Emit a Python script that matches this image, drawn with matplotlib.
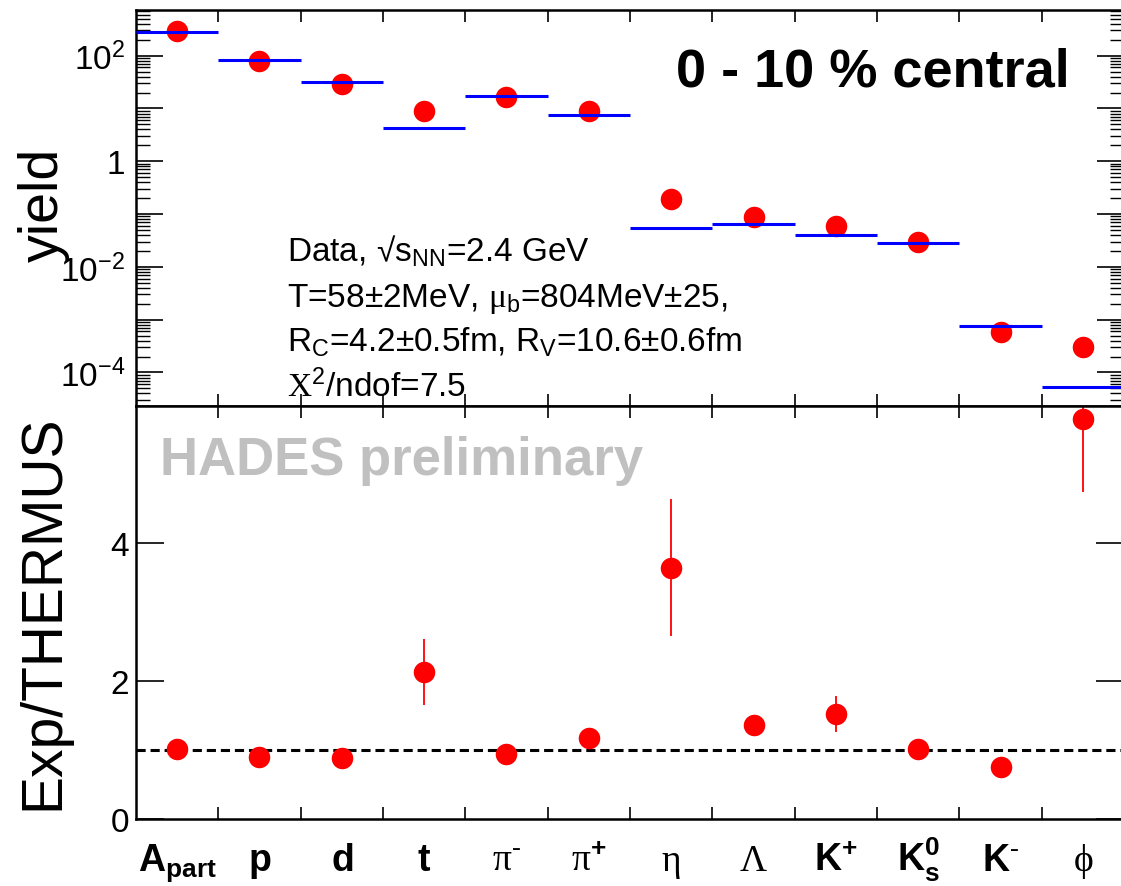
import numpy as np
import matplotlib.pyplot as plt
import matplotlib.transforms as mtransforms
from matplotlib.ticker import FixedLocator, FuncFormatter, LogLocator, NullFormatter

# particle species (x categories)
species = [
    r'$\mathbf{A_{part}}$',
    r'$\mathbf{p}$',
    r'$\mathbf{d}$',
    r'$\mathbf{t}$',
    r'$\mathrm{π}^{\text{-}}$',
    r'$\mathrm{π}^{\mathbf{+}}$',
    r'$\mathrm{η}$',
    r'$\mathrm{Λ}$',
    r'$\mathbf{K^{+}}$',
    r'$\mathbf{K^{0}_{s}}$',
    r'$\mathbf{K}^{\text{-}}$',
    r'$\mathrm{ϕ}$',
]

# measured yields and THERMUS fit
yield_data = [290, 78, 29, 9.0, 16.7, 9.0, 0.193, 0.089, 0.060, 0.030, 5.9e-4, 3.0e-4]
yield_model = [284, 83, 32, 4.2, 17.5, 7.5, 0.054, 0.065, 0.040, 0.028, 7.7e-4, 5.2e-5]

# ratio exp / THERMUS
ratio = [1.02, 0.90, 0.88, 2.14, 0.95, 1.18, 3.65, 1.37, 1.53, 1.02, 0.75, 5.80]
ratio_err = [0.0, 0.0, 0.0, 0.48, 0.0, 0.0, 1.0, 0.0, 0.26, 0.0, 0.0, 1.06]
ratio_ref = 1.0

fit_text = [
    r'Data, √$s_{NN}$=2.4 GeV',
    r'T=58±2MeV, $\mathrm{μ}_{b}$=804MeV±25,',
    r'R$_{C}$=4.2±0.5fm, R$_{V}$=10.6±0.6fm',
    r'$\mathrm{X}^{2}$/ndof=7.5',
]

plt.rcParams['font.family'] = ['Liberation Sans', 'DejaVu Sans']
plt.rcParams['mathtext.fontset'] = 'custom'
plt.rcParams['mathtext.rm'] = 'Liberation Serif'
plt.rcParams['mathtext.sf'] = 'Liberation Sans'
plt.rcParams['mathtext.bf'] = 'Liberation Sans:bold'
plt.rcParams['mathtext.it'] = 'Liberation Sans:italic'
plt.rcParams['mathtext.default'] = 'sf'

n = len(species)
centers = np.arange(n) + 0.5
edges = np.arange(n + 1)

fig = plt.figure(figsize=(11.21, 8.87), dpi=100)
ax1 = fig.add_axes([0.1213, 0.5415, 0.8814, 0.4461])
ax2 = fig.add_axes([0.1213, 0.0755, 0.8814, 0.4660])

# --- top panel: yields
ax1.hlines(yield_model, edges[:-1], edges[1:], colors='blue', lw=2.2, zorder=3)
ax1.plot(centers, yield_data, 'o', color='red', ms=15.5, mec='none', zorder=2)
ax1.set_yscale('log')
ax1.set_xlim(0, n)
ax1.set_ylim(2.35e-5, 733)


def log_label(v, pos):
    e = int(round(np.log10(v)))
    if e % 2:
        return ''
    if e == 0:
        return '1'
    return r'$10^{%d}$' % e


ax1.yaxis.set_major_locator(LogLocator(base=10, numticks=20))
ax1.yaxis.set_minor_locator(LogLocator(base=10, subs=np.arange(2, 10), numticks=20))
ax1.yaxis.set_major_formatter(FuncFormatter(log_label))
ax1.yaxis.set_minor_formatter(NullFormatter())
ax1.xaxis.set_major_locator(FixedLocator(edges[1:-1]))
ax1.tick_params(axis='y', which='major', direction='in', length=19.5, width=1.2,
                left=True, right=True, labelsize=24, pad=8)
ax1.tick_params(axis='y', which='minor', direction='in', length=10, width=1.0,
                left=True, right=True)
ax1.tick_params(axis='x', which='major', direction='in', length=8.5, width=1.2,
                top=True, bottom=True, labelbottom=False)
ax1.set_ylabel('yield', fontsize=40)
ax1.yaxis.set_label_coords(-0.0668, 0.51)

ax1.text(0.9453, 0.808, '0 - 10 % central', transform=ax1.transAxes,
         fontsize=39, fontweight='bold', ha='right', va='baseline')
for line, yb in zip(fit_text, [0.3657, 0.252, 0.138, 0.0245]):
    ax1.text(0.1528, yb, line, transform=ax1.transAxes, fontsize=24, va='baseline')

# --- bottom panel: ratio
ax2.axhline(ratio_ref, color='black', lw=2.2, ls=(0, (3, 1.6)), zorder=1)
ax2.errorbar(centers, ratio, yerr=ratio_err, fmt='o', color='red', ms=15.5, mec='none',
             ecolor='red', elinewidth=1.3, capsize=0, zorder=2)
ax2.set_xlim(0, n)
ax2.set_ylim(0, 6)
ax2.set_yticks([0, 2, 4])
ax2.set_yticklabels(['0', '2', '4'])
ax2.xaxis.set_major_locator(FixedLocator(edges[1:-1]))
ax2.tick_params(axis='y', which='major', direction='in', length=20, width=1.2,
                left=True, right=True, labelsize=24, pad=5)
ax2.tick_params(axis='x', which='major', direction='in', length=8.5, width=1.2,
                top=True, bottom=True, labelbottom=False)
ax2.set_ylabel('Exp/THERMUS', fontsize=41)
ax2.yaxis.set_label_coords(-0.0668, 0.503)

trans = mtransforms.blended_transform_factory(ax2.transData, ax2.transAxes)
for c, lab in zip(centers, species):
    ax2.text(c, -0.1234, lab, transform=trans, fontsize=27, ha='center', va='baseline')

ax2.text(0.0243, 0.8347, 'HADES preliminary', transform=ax2.transAxes, color='#c0c0c0',
         fontsize=38, fontweight='bold', va='baseline')

for ax in (ax1, ax2):
    for sp in ax.spines.values():
        sp.set_linewidth(1.8)

fig.savefig('out.png', dpi=100)
